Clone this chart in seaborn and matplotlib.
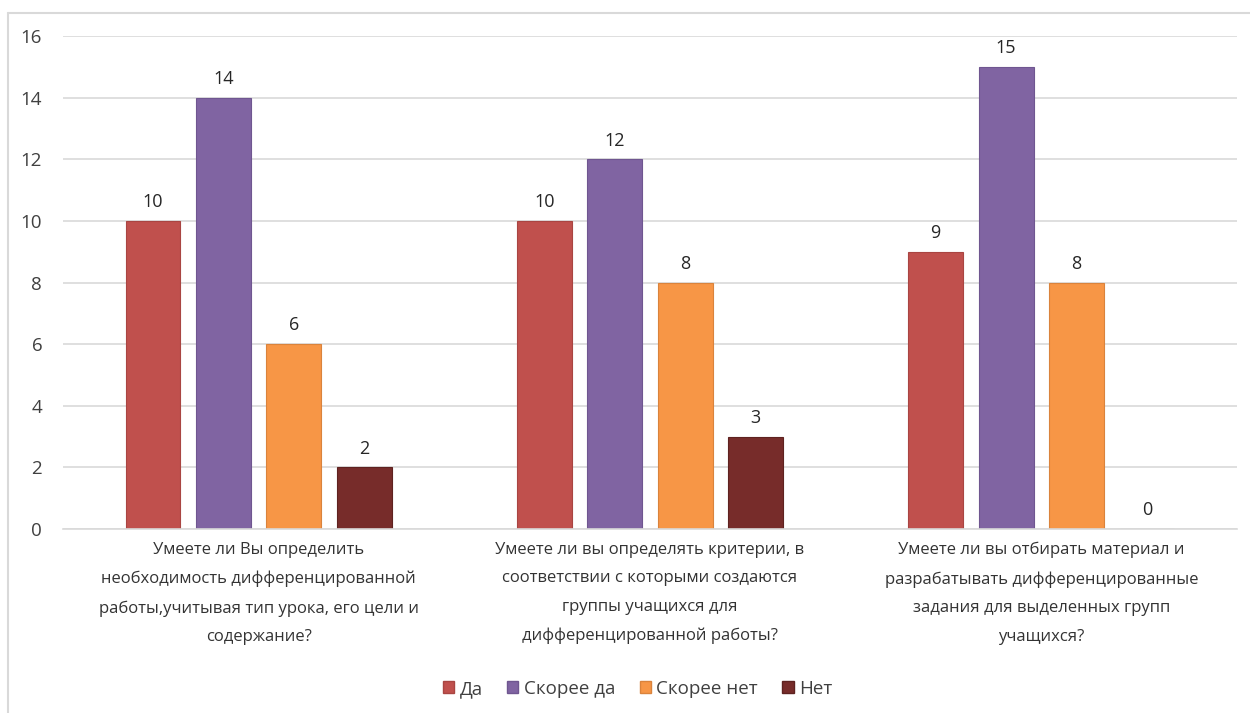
import matplotlib
matplotlib.use("Agg")
import matplotlib.pyplot as plt
import seaborn as sns
import pandas as pd
from matplotlib.lines import Line2D

questions = [
    "Умеете ли Вы определить\nнеобходимость дифференцированной\nработы,учитывая тип урока, его цели и\nсодержание?",
    "Умеете ли вы определять критерии, в\nсоответствии с которыми создаются\nгруппы учащихся для\nдифференцированной работы?",
    "Умеете ли вы отбирать материал и\nразрабатывать дифференцированные\nзадания для выделенных групп\nучащихся?",
]
answers = ["Да", "Скорее да", "Скорее нет", "Нет"]
da = [10, 10, 9]
skoree_da = [14, 12, 15]
skoree_net = [6, 8, 8]
net = [2, 3, 0]
y_ticks = [0, 2, 4, 6, 8, 10, 12, 14, 16]

colors = ["#C0504D", "#8064A2", "#F79646", "#772C2A"]
edge_colors = ["#A94542", "#6F5690", "#DA833C", "#5E2220"]

rows = []
for q_i, q in enumerate(questions):
    for a, vals in zip(answers, [da, skoree_da, skoree_net, net]):
        rows.append({"question": q, "answer": a, "count": vals[q_i]})
df = pd.DataFrame(rows)

sns.set_theme(style="white")
plt.rcParams["font.family"] = ["Open Sans", "DejaVu Sans"]

fig = plt.figure(figsize=(12.5, 7.13), dpi=100)
ax = fig.add_axes([0.0504, 0.258, 0.9392, 0.6915])

sns.barplot(data=df, x="question", y="count", hue="answer", hue_order=answers,
            palette=colors, width=0.72, gap=0.222, ax=ax, legend=False,
            errorbar=None, saturation=1)

for i, container in enumerate(ax.containers):
    for bar in container:
        bar.set_edgecolor(edge_colors[i])
        bar.set_linewidth(0.8)
    ax.bar_label(container, fmt="%d", padding=7, fontsize=13, color="#262626")

ax.set_xlim(-0.5, 2.5)
ax.set_ylim(0, 16)
ax.set_yticks(y_ticks)
ax.yaxis.grid(True, color="#D9D9D9", linewidth=1.2)
ax.set_axisbelow(True)
for s in ["top", "right", "left"]:
    ax.spines[s].set_visible(False)
ax.spines["bottom"].set_color("#D9D9D9")
ax.spines["bottom"].set_linewidth(1.2)
ax.tick_params(axis="y", labelsize=13.5, labelcolor="#404040", pad=15, length=0)
ax.tick_params(axis="x", labelsize=12, labelcolor="#333333", pad=9, length=0)
for lbl in ax.get_xticklabels():
    lbl.set_linespacing(2.05)
ax.set_xlabel("")
ax.set_ylabel("")

handles = [plt.Rectangle((0, 0), 1, 1, facecolor=c, edgecolor=e)
           for c, e in zip(colors, edge_colors)]
fig.legend(handles, answers, loc="center", bbox_to_anchor=(0.51, 0.034),
           ncol=4, frameon=False, fontsize=13.5, handlelength=0.6, handleheight=0.6,
           handletextpad=0.3, columnspacing=1.3, labelcolor="#404040")

# outer chart frame
fig.add_artist(Line2D([0.0064, 1.0], [0.982, 0.982], color="#D9D9D9", lw=1.5,
                      transform=fig.transFigure))
fig.add_artist(Line2D([0.0064, 0.0064], [0.0, 0.982], color="#D9D9D9", lw=1.5,
                      transform=fig.transFigure))

fig.savefig("out.png", dpi=100, facecolor="white")
